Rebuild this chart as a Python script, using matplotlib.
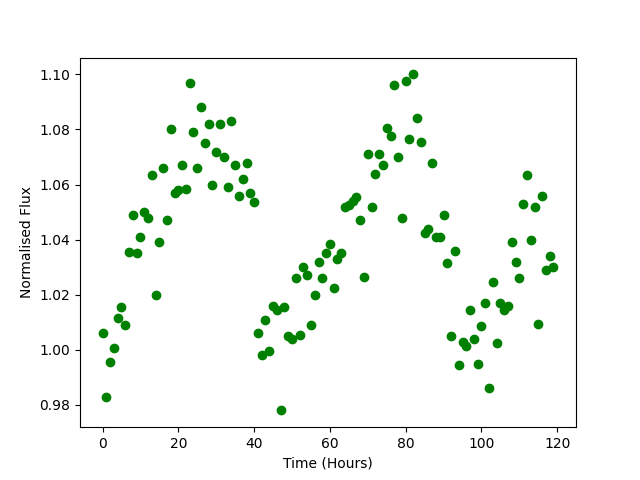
import numpy as np
import matplotlib
matplotlib.use("Agg")
import matplotlib.pyplot as plt

# hourly observations
time_hours = np.arange(120)

flux = [
    1.006, 0.983, 0.9955, 1.0005, 1.0115, 1.0155, 1.009, 1.0355, 1.049, 1.035,
    1.041, 1.050, 1.048, 1.0635, 1.020, 1.039, 1.066, 1.047, 1.080, 1.057,
    1.058, 1.067, 1.0585, 1.097, 1.079, 1.066, 1.088, 1.075, 1.082, 1.060,
    1.072, 1.082, 1.070, 1.059, 1.083, 1.067, 1.056, 1.062, 1.068, 1.057,
    1.0535, 1.006, 0.998, 1.011, 0.9995, 1.016, 1.0145, 0.978, 1.0155, 1.005,
    1.004, 1.026, 1.0055, 1.030, 1.027, 1.009, 1.020, 1.032, 1.026, 1.035,
    1.0385, 1.0225, 1.033, 1.035, 1.052, 1.0525, 1.054, 1.0555, 1.047, 1.0265,
    1.071, 1.052, 1.064, 1.071, 1.067, 1.0805, 1.0775, 1.096, 1.070, 1.048,
    1.0975, 1.0765, 1.100, 1.084, 1.0755, 1.0425, 1.044, 1.068, 1.041, 1.041,
    1.049, 1.0315, 1.005, 1.036, 0.9945, 1.003, 1.0015, 1.0145, 1.004, 0.995,
    1.0085, 1.017, 0.986, 1.0245, 1.0025, 1.017, 1.0145, 1.016, 1.039, 1.032,
    1.026, 1.053, 1.0635, 1.040, 1.052, 1.0095, 1.056, 1.029, 1.034, 1.030,
]

plt.figure(figsize=(6.4, 4.8), dpi=100)
plt.plot(time_hours, flux, 'go')
plt.xlabel('Time (Hours)')
plt.ylabel('Normalised Flux')
plt.savefig('out.png')
